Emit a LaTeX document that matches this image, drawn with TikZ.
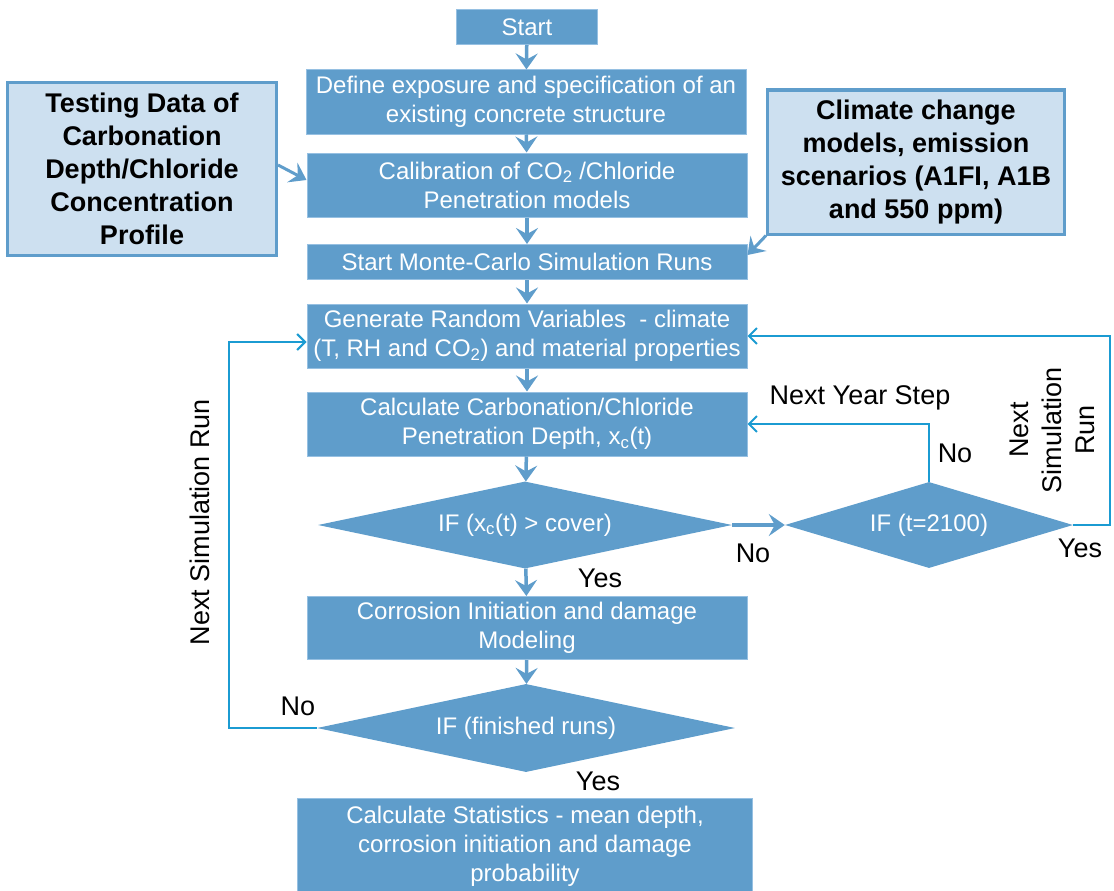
\documentclass[tikz,border=0pt]{standalone}
\usepackage{fontspec}
\setmainfont{Liberation Sans}
\usetikzlibrary{arrows.meta, positioning, shapes.geometric}
\definecolor{boxblue}{RGB}{95,157,203}
\definecolor{edgeblue}{RGB}{150,192,226}
\definecolor{sidefill}{RGB}{205,224,240}
\definecolor{loopblue}{RGB}{27,155,210}

\begin{document}
\begin{tikzpicture}[x=1pt, y=-1pt,
        procbox/.style={draw=edgeblue, line width=1pt, fill=boxblue, text=white, align=center,
            minimum width=440pt, inner sep=2pt, font=\fontsize{24}{29}\selectfont},
        decision/.style={diamond, fill=boxblue, text=white, inner sep=0pt,
            font=\fontsize{24}{29}\selectfont},
        sidebox/.style={draw=boxblue, line width=3pt, fill=sidefill, align=center,
            font=\fontsize{27}{33}\selectfont\bfseries},
        flow/.style={draw=boxblue, line width=3.5pt, -{Stealth[length=16pt, width=22pt, inset=6pt]}},
        loopline/.style={draw=loopblue, line width=2pt, -{Straight Barb[length=8pt, width=16pt]}},
        lbl/.style={font=\fontsize{27}{33}\selectfont, align=center}]
        \useasboundingbox (0,0) rectangle (1114,891);

        % main column
        \node[procbox, minimum width=141pt, minimum height=35pt] (start) at (527,27) {Start};
        \node[procbox, minimum height=64pt] (define) at (526,102) {Define exposure and specification of an\\existing concrete structure};
        \node[procbox, minimum height=64pt] (calib) at (527,185) {Calibration of CO\textsubscript{2} /Chloride\\Penetration models};
        \node[procbox, minimum height=35pt] (montecarlo) at (527,262) {Start Monte-Carlo Simulation Runs};
        \node[procbox, minimum height=64pt] (generate) at (527,336) {Generate Random Variables\ \ - climate\\(T, RH and CO\textsubscript{2}) and material properties};
        \node[procbox, minimum height=64pt] (calcdepth) at (527,424) {Calculate Carbonation/Chloride\\Penetration Depth, x\textsubscript{c}(t)};
        \node[decision, aspect=4.76, minimum width=414pt, minimum height=87pt] (ifcover) at (525,525) {IF (x\textsubscript{c}(t) > cover)};
        \node[decision, aspect=3.35, minimum width=288pt, minimum height=86pt] (ifyear) at (929,525) {IF (t=2100)};
        \node[procbox, minimum height=63pt] (corrosion) at (527,628) {Corrosion Initiation and damage\\Modeling};
        \node[decision, aspect=4.75, minimum width=418pt, minimum height=88pt] (ifruns) at (526,728) {IF (finished runs)};
        \node[procbox, minimum width=455pt, minimum height=95pt] (stats) at (525,846) {Calculate Statistics - mean depth,\\corrosion initiation and damage\\probability};

        % input boxes
        \node[sidebox, minimum width=269pt, minimum height=172pt] (testing) at (142,169) {Testing Data of\\Carbonation\\Depth/Chloride\\Concentration\\Profile};
        \node[sidebox, minimum width=297pt, minimum height=144pt] (climate) at (916,162) {Climate change\\models, emission\\scenarios (A1FI, A1B\\and 550 ppm)};

        \coordinate (rloop) at (1110,336);
        \coordinate (lloop) at (229,342);

        \draw[flow] (start) -- (define);
        \draw[flow] (define) -- (calib);
        \draw[flow] (calib) -- (montecarlo);
        \draw[flow] (montecarlo) -- (generate);
        \draw[flow] (generate) -- (calcdepth);
        \draw[flow] (calcdepth) -- (ifcover);
        \draw[flow] (ifcover) -- (corrosion);
        \draw[flow] (corrosion) -- (ifruns);
        \draw[flow] (ifcover.east) -- (ifyear.west);
        \draw[flow, line width=3pt] ([yshift=4pt]testing.east) -- ([yshift=5pt]calib.west);
        \draw[flow, line width=3pt] (climate.south west) -- ([yshift=7pt]montecarlo.east);

        % feedback loops
        \draw[loopline] (ifyear.north) |- (calcdepth.east);
        \draw[loopline] (ifyear.east) -| (rloop) -- (generate.east);
        \draw[loopline] (ifruns.west) -| (lloop) -- (lloop -| generate.west);

        % labels
        \node[lbl] (nextyear) at (860,398) {Next Year Step};
        \node[lbl] (noyear) at (955,453) {No};
        \node[lbl, rotate=90] (nextrunr) at (1052,430) {Next\\Simulation\\Run};
        \node[lbl] (yesyear) at (1080,548) {Yes};
        \node[lbl] (nocover) at (753,553) {No};
        \node[lbl] (yescover) at (600,578) {Yes};
        \node[lbl, rotate=90] (nextrunl) at (200,522) {Next Simulation Run};
        \node[lbl] (noruns) at (298,706) {No};
        \node[lbl] (yesruns) at (598,781) {Yes};
    \end{tikzpicture}
\end{document}
